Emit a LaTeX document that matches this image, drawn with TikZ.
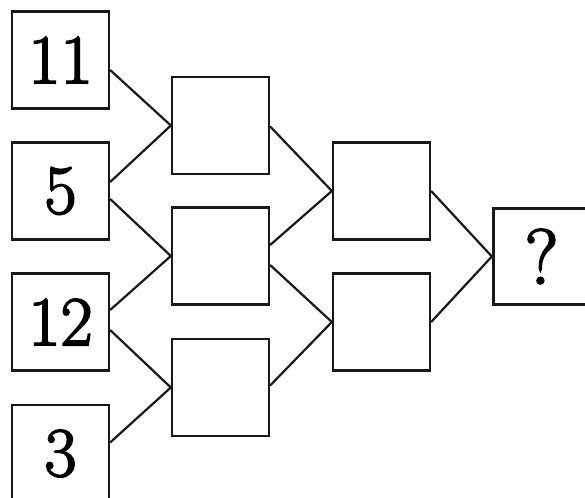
\documentclass[tikz,border=0pt]{standalone}
\usepackage{fontspec}
\setmainfont[FakeBold=2.5]{Latin Modern Roman}
\begin{document}
\begin{tikzpicture}[x=1pt,y=-1pt,
  cell/.style={draw=black!90, line width=2.3pt, rectangle, minimum width=97pt, minimum height=97pt, inner sep=0pt,
    font=\fontsize{70}{70}\selectfont},
  qcell/.style={cell, line width=3.3pt, minimum width=96pt, minimum height=96pt, font=\fontsize{78}{78}\selectfont},
  link/.style={draw=black!90, line width=2.2pt}]
\useasboundingbox (0,0) rectangle (585,497);
\clip (0,0) rectangle (585,497);
\fill[white] (0,0) rectangle (585,497);
% first column
\node[cell] (n11) at (60.5,60) {11};
\node[cell] (n5) at (60.5,191) {5};
\node[cell] (n12) at (60.5,322) {12};
\node[cell] (n3) at (60.5,453.5) {3};
% second column
\node[cell] (a) at (220.5,125.5) {};
\node[cell] (b) at (220.5,256) {};
\node[cell] (c) at (220.5,387.5) {};
% third column
\node[cell] (d) at (381.5,191) {};
\node[cell] (e) at (381.5,322) {};
% result
\node[qcell] (q) at (541.5,256.5) {?};
% connectors
\draw[link] ([yshift=-10pt]n11.east) -- (a.west);
\draw[link] ([yshift=9pt]n5.east) -- (a.west);
\draw[link] ([yshift=-8pt]n5.east) -- (b.west);
\draw[link] ([yshift=12pt]n12.east) -- (b.west);
\draw[link] ([yshift=-8pt]n12.east) -- (c.west);
\draw[link] ([yshift=11pt]n3.east) -- (c.west);
\draw[link] ([yshift=-1pt]a.east) -- (d.west);
\draw[link] ([yshift=11pt]b.east) -- (d.west);
\draw[link] ([yshift=-9pt]b.east) -- (e.west);
\draw[link] ([yshift=2pt]c.east) -- (e.west);
\draw[link] (d.east) -- (q.west);
\draw[link] (e.east) -- (q.west);
\end{tikzpicture}
\end{document}
